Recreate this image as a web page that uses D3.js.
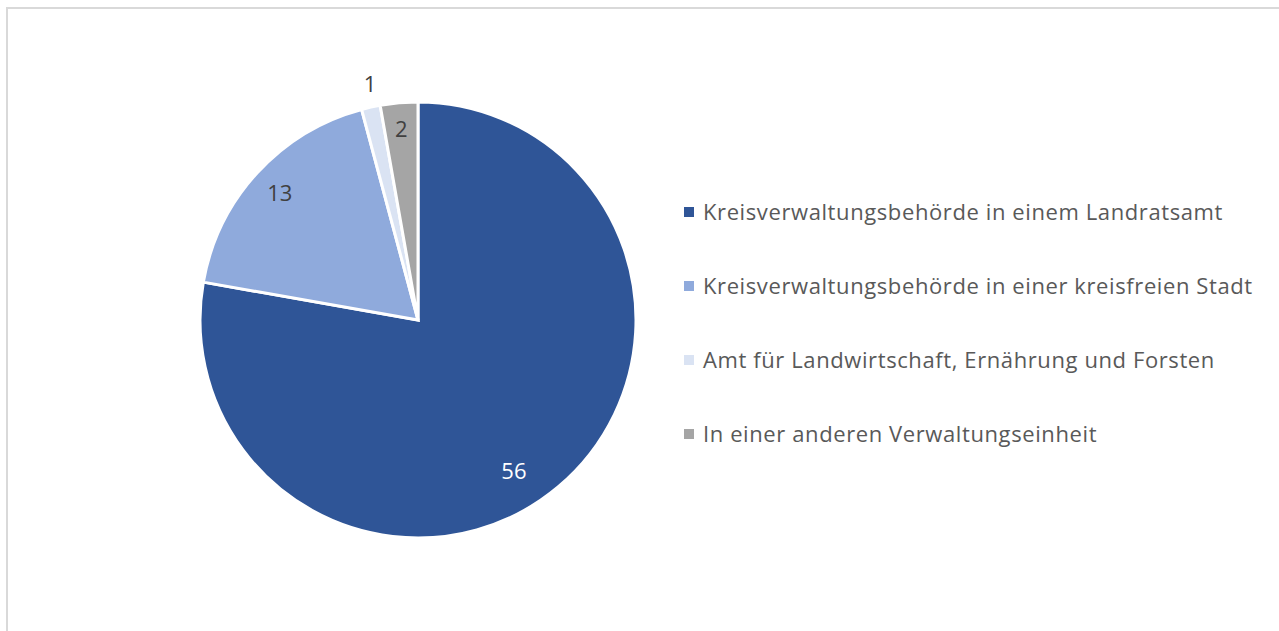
<!DOCTYPE html>
<html>
<head>
<meta charset="utf-8">
<script src="https://cdn.jsdelivr.net/npm/d3@7"></script>
<style>
  body { margin: 0; background: #fff; }
  svg { display: block; font-family: "Open Sans", "Noto Sans", sans-serif; }
</style>
</head>
<body>
<div id="chart"></div>
<script>
// chart data
const categories = [
  "Kreisverwaltungsbehörde in einem Landratsamt",
  "Kreisverwaltungsbehörde in einer kreisfreien Stadt",
  "Amt für Landwirtschaft, Ernährung und Forsten",
  "In einer anderen Verwaltungseinheit"
];
const values = [56, 13, 1, 2];
const colors = ["#2f5597", "#8faadc", "#dae3f3", "#a5a5a5"];
const labelColors = ["#ffffff", "#404040", "#404040", "#404040"];

const width = 1279;
const height = 631;
const cx = 418, cy = 320, radius = 218;

const svg = d3.select("#chart")
  .append("svg")
  .attr("width", width)
  .attr("height", height);

// chart frame (runs off the right/bottom edges)
svg.append("rect")
  .attr("x", 7).attr("y", 8)
  .attr("width", width + 20).attr("height", height + 20)
  .attr("fill", "none")
  .attr("stroke", "#d9d9d9")
  .attr("stroke-width", 2);

const data = categories.map((c, i) => ({name: c, value: values[i], i: i}));

const pie = d3.pie()
  .value(d => d.value)
  .sort(null);

const arc = d3.arc()
  .innerRadius(0)
  .outerRadius(radius);

const g = svg.append("g")
  .attr("transform", `translate(${cx},${cy})`);

const arcs = pie(data);

g.selectAll("path")
  .data(arcs)
  .enter()
  .append("path")
    .attr("d", arc)
    .attr("fill", d => colors[d.data.i])
    .attr("stroke", "#fff")
    .attr("stroke-width", 3)
    .attr("stroke-linejoin", "miter");

// data labels: big slices inside, the tiny one outside (best-fit style)
const labelRadius = [0.82, 0.86, 1.10, 0.88];
const labelShift = [[-19, 14], [0, 0], [4, -2], [0, 0]];
g.selectAll(".lbl")
  .data(arcs)
  .enter()
  .append("text")
    .attr("class", "lbl")
    .attr("transform", d => {
      const a = (d.startAngle + d.endAngle) / 2;
      const r = radius * labelRadius[d.data.i];
      const s = labelShift[d.data.i];
      return `translate(${Math.sin(a) * r + s[0]},${-Math.cos(a) * r + s[1]})`;
    })
    .attr("text-anchor", "middle")
    .attr("dy", "0.35em")
    .attr("font-size", 22)
    .attr("fill", d => labelColors[d.data.i])
    .text(d => d.data.value);

// legend
const legendY = d3.scalePoint()
  .domain(categories)
  .range([212, 434]);

const legend = svg.selectAll(".legend")
  .data(data)
  .enter()
  .append("g")
    .attr("class", "legend")
    .attr("transform", d => `translate(684,${legendY(d.name)})`);

legend.append("rect")
  .attr("x", 0).attr("y", -5)
  .attr("width", 10).attr("height", 10)
  .attr("fill", d => colors[d.i]);

legend.append("text")
  .attr("x", 19)
  .attr("dy", "0.35em")
  .attr("font-size", 22)
  .attr("letter-spacing", 0.6)
  .attr("fill", "#595959")
  .text(d => d.name);
</script>
</body>
</html>
